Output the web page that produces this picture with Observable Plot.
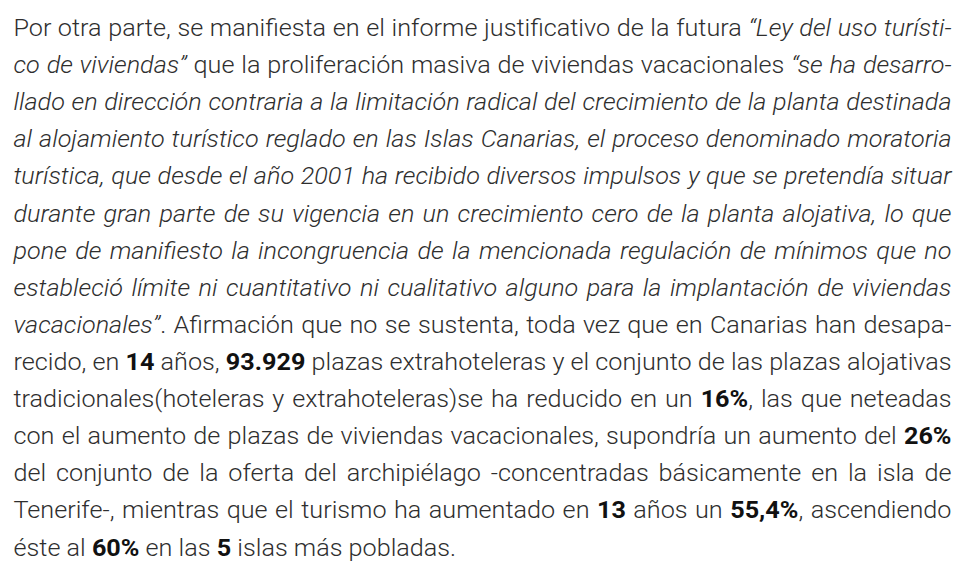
<!DOCTYPE html>
<html>
<head>
<meta charset="utf-8">
<script src="https://cdn.jsdelivr.net/npm/d3@7"></script>
<script src="https://cdn.jsdelivr.net/npm/@observablehq/plot@0.6"></script>
<style>
  html, body { margin: 0; padding: 0; background: #fff; }
  #chart svg { display: block; }
</style>
</head>
<body>
<div id="chart"></div>
<script>
// Paragraph content, one entry per printed line; each run is [text, style] (""=regular, "i"=italic, "b"=bold)
const line01 = [["Por otra parte, se manifiesta en el informe justificativo de la futura ", ""], ["“Ley del uso turísti-", "i"]];
const line02 = [["co de viviendas”", "i"], [" que la proliferación masiva de viviendas vacacionales ", ""], ["“se ha desarro-", "i"]];
const line03 = [["llado en dirección contraria a la limitación radical del crecimiento de la planta destinada", "i"]];
const line04 = [["al alojamiento turístico reglado en las Islas Canarias, el proceso denominado moratoria", "i"]];
const line05 = [["turística, que desde el año 2001 ha recibido diversos impulsos y que se pretendía situar", "i"]];
const line06 = [["durante gran parte de su vigencia en un crecimiento cero de la planta alojativa, lo que", "i"]];
const line07 = [["pone de manifiesto la incongruencia de la mencionada regulación de mínimos que no", "i"]];
const line08 = [["estableció límite ni cuantitativo ni cualitativo alguno para la implantación de viviendas", "i"]];
const line09 = [["vacacionales”", "i"], [". Afirmación que no se sustenta, toda vez que en Canarias han desapa-", ""]];
const line10 = [["recido, en ", ""], ["14", "b"], [" años, ", ""], ["93.929", "b"], [" plazas extrahoteleras y el conjunto de las plazas alojativas", ""]];
const line11 = [["tradicionales(hoteleras y extrahoteleras)se ha reducido en un ", ""], ["16%", "b"], [", las que neteadas", ""]];
const line12 = [["con el aumento de plazas de viviendas vacacionales, supondría un aumento del ", ""], ["26%", "b"]];
const line13 = [["del conjunto de la oferta del archipiélago -concentradas básicamente en la isla de", ""]];
const line14 = [["Tenerife-, mientras que el turismo ha aumentado en ", ""], ["13", "b"], [" años un ", ""], ["55,4%", "b"], [", ascendiendo", ""]];
const line15 = [["éste al ", ""], ["60%", "b"], [" en las ", ""], ["5", "b"], [" islas más pobladas.", ""]];

const lines = [line01, line02, line03, line04, line05, line06, line07, line08, line09, line10, line11, line12, line13, line14, line15];
const lineIndex = lines.map((_, i) => i);

const FONT = "Roboto, 'Noto Sans', sans-serif";
const FS = 23.5;
const TEXT_COLOR = "#2e2e2e";
const BOLD_COLOR = "#111111";

const plot = Plot.plot({
  width: 961,
  height: 563,
  marginLeft: 13,
  marginRight: 10,
  marginTop: 35.5,
  marginBottom: 8,
  x: {domain: [0, 1], axis: null},
  y: {domain: [0, lines.length - 1], axis: null, reverse: true},
  style: {background: "#fff", fontFamily: FONT},
  marks: [
    Plot.text(lineIndex, {
      x: () => 0,
      y: (d) => d,
      text: (d) => lines[d].map((r) => r[0]).join(""),
      textAnchor: "start",
      lineAnchor: "bottom",
      fontSize: FS,
      fontWeight: 300,
      fill: TEXT_COLOR
    })
  ]
});

document.getElementById("chart").appendChild(plot);

function words(runs) {
  const out = [[]];
  for (const [t, s] of runs) {
    t.split(" ").forEach((part, j) => {
      if (j > 0) out.push([]);
      if (part) out[out.length - 1].push([part, s]);
    });
  }
  return out.filter((w) => w.length);
}

function layout() {
  const xs = plot.scale("x");
  const target = xs.apply(1) - xs.apply(0);
  const texts = d3.select(plot).selectAll("text").nodes().filter((n) => n.textContent.length > 0);

  // natural space width
  const probe = d3.select(texts[0]);
  const tmp = probe.append("tspan").attr("x", 0).style("white-space", "pre").text("n n");
  const w3 = tmp.node().getComputedTextLength();
  tmp.text("nn");
  const w2 = tmp.node().getComputedTextLength();
  tmp.remove();
  const spaceW = w3 - w2;

  const info = [];
  texts.forEach((node, i) => {
    const sel = d3.select(node);
    sel.text(null);
    const ws = words(lines[i]).map((w) => {
      const outer = sel.append("tspan");
      for (const [t, s] of w) {
        const ts = outer.append("tspan").text(t);
        if (s === "i") ts.attr("font-style", "italic");
        if (s === "b") ts.attr("font-weight", 700).attr("fill", BOLD_COLOR);
      }
      return outer;
    });
    const widths = ws.map((o) => o.node().getComputedTextLength());
    info.push({sel, ws, widths});
  });

  // horizontal scaling so the tightest justified line sits at natural spacing
  let scale = Infinity;
  info.forEach((d, i) => {
    if (i === info.length - 1) return;
    const nat = d3.sum(d.widths) + (d.widths.length - 1) * spaceW;
    scale = Math.min(scale, target / nat);
  });
  scale = Math.min(scale, 1.08);

  info.forEach((d, i) => {
    const last = i === info.length - 1;
    const avail = target / scale;
    const gap = last ? spaceW : (avail - d3.sum(d.widths)) / (d.widths.length - 1);
    let x = 0;
    d.ws.forEach((o, k) => {
      o.attr("x", x);
      x += d.widths[k] + gap;
    });
    const tr = d.sel.attr("transform") || "";
    d.sel.attr("transform", tr + ` scale(${scale},1)`);
  });
}

(document.fonts && document.fonts.ready ? document.fonts.ready : Promise.resolve()).then(layout);
</script>
</body>
</html>
